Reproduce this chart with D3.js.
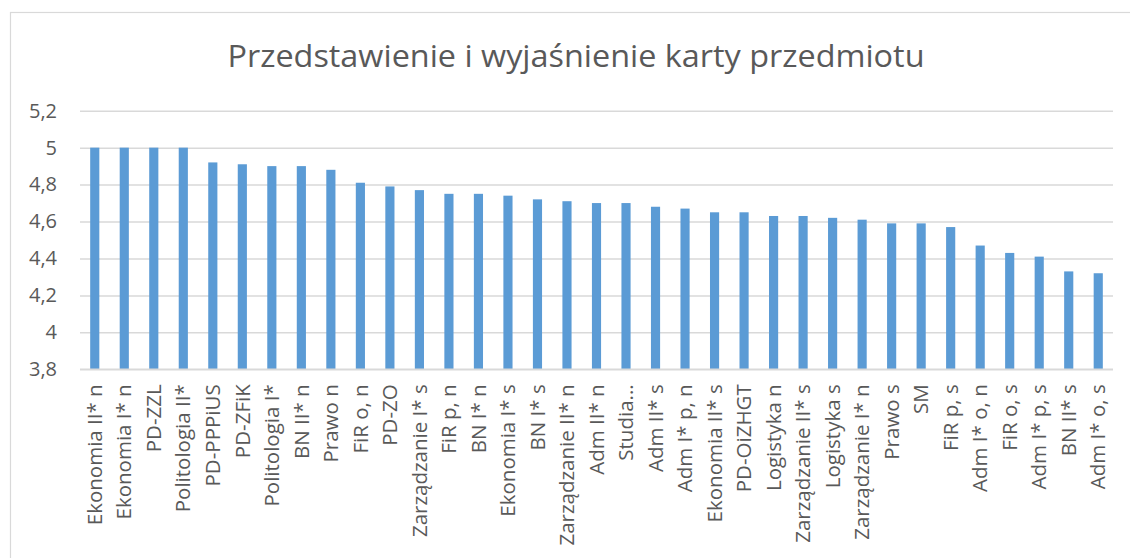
<!DOCTYPE html>
<html>
<head>
<meta charset="utf-8">
<script src="https://cdn.jsdelivr.net/npm/d3@7"></script>
<style>
  html, body { margin: 0; padding: 0; background: #fff; }
  svg { display: block; font-family: "Open Sans", "DejaVu Sans", sans-serif; }
</style>
</head>
<body>
<svg id="chart" width="1130" height="558"></svg>
<script>
// data
const title = "Przedstawienie i wyjaśnienie karty przedmiotu";

const categories = [
  "Ekonomia II* n", "Ekonomia I* n", "PD-ZZL", "Politologia II*", "PD-PPPiUS",
  "PD-ZFiK", "Politologia I*", "BN II* n", "Prawo n", "FiR o, n",
  "PD-ZO", "Zarządzanie I* s", "FiR p, n", "BN I* n", "Ekonomia I* s",
  "BN I* s", "Zarządzanie II* n", "Adm II* n", "Studia...", "Adm II* s",
  "Adm I* p, n", "Ekonomia II* s", "PD-OiZHGT", "Logistyka n", "Zarządzanie II* s",
  "Logistyka s", "Zarządzanie I* n", "Prawo s", "SM", "FiR p, s",
  "Adm I* o, n", "FiR o, s", "Adm I* p, s", "BN II* s", "Adm I* o, s"
];

const values = [
  5.00, 5.00, 5.00, 5.00, 4.92,
  4.91, 4.90, 4.90, 4.88, 4.81,
  4.79, 4.77, 4.75, 4.75, 4.74,
  4.72, 4.71, 4.70, 4.70, 4.68,
  4.67, 4.65, 4.65, 4.63, 4.63,
  4.62, 4.61, 4.59, 4.59, 4.57,
  4.47, 4.43, 4.41, 4.33, 4.32
];

const yTicks = [3.8, 4, 4.2, 4.4, 4.6, 4.8, 5, 5.2];

// ---- layout
const svg = d3.select("#chart");
const plot = { left: 80, right: 1113, top: 110.7, bottom: 369.3 };
const textColor = "#595959";
const gridColor = "#d9d9d9";

// outer chart frame (runs off the right / bottom edge like the screenshot)
svg.append("rect")
  .attr("x", 10.5).attr("y", 12.5)
  .attr("width", 1140).attr("height", 560)
  .attr("fill", "none")
  .attr("stroke", gridColor)
  .attr("stroke-width", 1.2);

// title
svg.append("text")
  .attr("x", 576).attr("y", 67)
  .attr("text-anchor", "middle")
  .attr("fill", textColor)
  .attr("font-size", 31)
  .attr("textLength", 697)
  .attr("lengthAdjust", "spacingAndGlyphs")
  .text(title);

// scales
const x = d3.scaleBand()
  .domain(categories)
  .range([plot.left, plot.right])
  .paddingInner(0.69)
  .paddingOuter(0.345);

const y = d3.scaleLinear()
  .domain([3.8, 5.2])
  .range([plot.bottom, plot.top]);

const fmt = d => String(+d.toFixed(1)).replace(".", ",");

// gridlines + y labels
const yAxis = d3.axisLeft(y)
  .tickValues(yTicks)
  .tickSize(-(plot.right - plot.left))
  .tickPadding(23)
  .tickFormat(fmt);

const gy = svg.append("g")
  .attr("transform", `translate(${plot.left},0)`)
  .call(yAxis);
gy.select(".domain").remove();
gy.selectAll(".tick line")
  .attr("stroke", gridColor)
  .attr("stroke-width", 1.5);
gy.selectAll(".tick text")
  .attr("fill", textColor)
  .attr("font-size", 20)
  .attr("font-family", "Open Sans, sans-serif");

// bars
svg.append("g")
  .selectAll("rect")
  .data(values)
  .join("rect")
    .attr("x", (d, i) => x(categories[i]))
    .attr("y", d => y(d))
    .attr("width", x.bandwidth())
    .attr("height", d => y(3.8) - y(d))
    .attr("fill", "#5b9bd5");

// x labels (rotated)
const xAxis = d3.axisBottom(x).tickSize(0).tickPadding(0);
const gx = svg.append("g")
  .attr("transform", `translate(0,${plot.bottom})`)
  .call(xAxis);
gx.select(".domain").remove();
gx.selectAll(".tick text")
  .attr("fill", textColor)
  .attr("font-size", 20.5)
  .attr("font-family", "Open Sans, sans-serif")
  .attr("text-anchor", "end")
  .attr("dy", "0.35em")
  .attr("transform", "translate(0,15) rotate(-90)");

// baseline on top of the bars
svg.append("line")
  .attr("x1", plot.left).attr("x2", plot.right)
  .attr("y1", plot.bottom).attr("y2", plot.bottom)
  .attr("stroke", gridColor)
  .attr("stroke-width", 1.5);
</script>
</body>
</html>
